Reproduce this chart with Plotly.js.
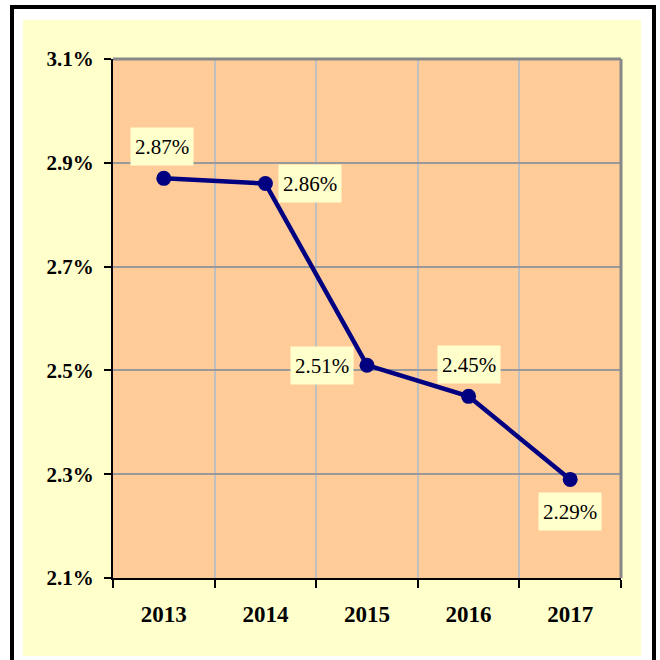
<!DOCTYPE html>
<html>
<head>
<meta charset="utf-8">
<script src="https://cdn.plot.ly/plotly-3.0.1.min.js"></script>
<style>
  html, body { margin: 0; padding: 0; background: #ffffff; width: 660px; height: 660px; overflow: hidden; }
  #frame { position: absolute; left: 10px; top: 5px; width: 638px; height: 700px; border: 4px solid #000; box-sizing: content-box; }
  #chart { position: absolute; left: 23px; top: 20px; width: 618px; height: 636px; }
</style>
</head>
<body>
<div id="frame"></div>
<div id="chart"></div>
<script>
const years = ['2013', '2014', '2015', '2016', '2017'];
const rates = [2.87, 2.86, 2.51, 2.45, 2.29];
const yTicks = [2.1, 2.3, 2.5, 2.7, 2.9, 3.1];

// label placement (pixels) relative to each point
const labelShift = [
  { x: -2, y: 32 },
  { x: 45, y: 0 },
  { x: -45, y: 0 },
  { x: 0, y: 32 },
  { x: 0, y: -32 }
];

const trace = {
  type: 'scatter',
  mode: 'lines+markers',
  x: years,
  y: rates,
  line: { color: '#000080', width: 4.5 },
  marker: { color: '#000080', size: 15 },
  hoverinfo: 'none'
};

const annotations = years.map((yr, i) => ({
  x: i, y: rates[i], xref: 'x', yref: 'y',
  text: rates[i].toFixed(2) + '%',
  showarrow: false,
  xshift: labelShift[i].x, yshift: labelShift[i].y,
  bgcolor: '#FFFFCC',
  width: 56, height: 31, borderpad: 3,
  font: { family: 'Liberation Serif', size: 21, color: '#000000' }
}));

const layout = {
  width: 618, height: 636,
  margin: { l: 90, r: 20, t: 39, b: 78, pad: 0 },
  paper_bgcolor: '#FFFFCC',
  plot_bgcolor: '#FFCC99',
  showlegend: false,
  xaxis: {
    type: 'category',
    tickson: 'boundaries',
    range: [-0.5, 4.5],
    showline: true, linecolor: '#000', linewidth: 2,
    ticks: 'outside', ticklen: 8, tickwidth: 2, tickcolor: '#000',
    showgrid: true, gridcolor: '#C0C0C0', gridwidth: 2,
    tickfont: { family: 'Liberation Serif', size: 23, color: '#000', weight: 'bold' },
    ticklabelstandoff: 14,
    zeroline: false, fixedrange: true
  },
  yaxis: {
    range: [2.1, 3.1],
    tickvals: yTicks,
    ticktext: yTicks.map(v => v.toFixed(1) + '%'),
    showline: true, linecolor: '#000', linewidth: 2,
    ticks: 'outside', ticklen: 7, tickwidth: 2, tickcolor: '#000',
    showgrid: true, gridcolor: '#999999', gridwidth: 2,
    tickfont: { family: 'Liberation Serif', size: 21, color: '#000', weight: 'bold' },
    ticklabelstandoff: 6,
    zeroline: false, fixedrange: true
  },
  shapes: [
    { type: 'line', xref: 'paper', yref: 'paper', x0: 1, x1: 1, y0: 0, y1: 1, line: { color: '#888888', width: 3 } },
    { type: 'line', xref: 'paper', yref: 'paper', x0: 0, x1: 1, y0: 1, y1: 1, line: { color: '#888888', width: 3 } }
  ],
  annotations: annotations
};

Plotly.newPlot('chart', [trace], layout, { displayModeBar: false });
</script>
</body>
</html>
